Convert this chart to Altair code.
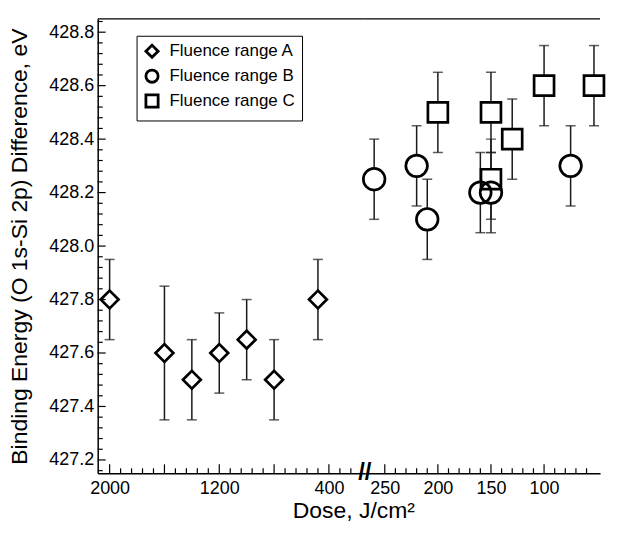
import altair as alt
import pandas as pd

FONT = "Liberation Sans"

# ---- data ----
series = ["Fluence range A", "Fluence range B", "Fluence range C"]
shapes = ["diamond", "circle", "square"]
sizes = [320, 470, 400]

dose_a = [2000, 1600, 1400, 1200, 1000, 800, 480]
be_a = [427.80, 427.60, 427.50, 427.60, 427.65, 427.50, 427.80]
lo_a = [427.65, 427.35, 427.35, 427.45, 427.50, 427.35, 427.65]
hi_a = [427.95, 427.85, 427.65, 427.75, 427.80, 427.65, 427.95]

dose_b = [260, 220, 210, 160, 150, 75]
be_b = [428.25, 428.30, 428.10, 428.20, 428.20, 428.30]
lo_b = [428.10, 428.15, 427.95, 428.05, 428.05, 428.15]
hi_b = [428.40, 428.45, 428.25, 428.35, 428.35, 428.45]

dose_c = [200, 150, 150, 130, 100, 53]
be_c = [428.50, 428.50, 428.25, 428.40, 428.60, 428.60]
lo_c = [428.35, 428.35, 428.10, 428.25, 428.45, 428.45]
hi_c = [428.65, 428.65, 428.40, 428.55, 428.75, 428.75]

# ---- axis tick values ----
left_labels = [2000, 1200, 400]
left_major = [2000, 1600, 1200, 800, 400]
left_minor = [d for d in range(2000, 239, -80) if d not in left_major]
right_labels = [250, 200, 150, 100]
right_major = [250, 200, 150, 100]
right_minor = [d for d in range(250, 59, -10) if d not in right_major]
y_labels = [427.2, 427.4, 427.6, 427.8, 428.0, 428.2, 428.4, 428.6, 428.8]
y_minor = [round(427.16 + 0.04 * i, 2) for i in range(43)]
y_minor = [v for v in y_minor if all(abs(v - m) > 1e-6 for m in y_labels)]

x_title = "Dose, J/cm²"
y_title = "Binding Energy (O 1s-Si 2p) Difference, eV"

Y_DOMAIN = [427.15, 428.85]
W1, W2, H = 268, 236, 456


def frame(dose, be, lo, hi, name):
    return pd.DataFrame({"dose": dose, "be": be, "lo": lo, "hi": hi, "g": name})


df_left = frame(dose_a, be_a, lo_a, hi_a, series[0])
df_right = pd.concat([frame(dose_b, be_b, lo_b, hi_b, series[1]),
                      frame(dose_c, be_c, lo_c, hi_c, series[2])])

y_scale = alt.Scale(domain=Y_DOMAIN, nice=False, zero=False)
y_axis_left = alt.Axis(values=y_labels, format=".1f", ticks=False, grid=False,
                       title=y_title,
                       titleFontSize=23, titleFontWeight="normal", titleFont=FONT,
                       titlePadding=17, titleColor="black",
                       labelFontSize=18, labelFont=FONT, labelColor="black",
                       labelPadding=4, domainColor="black", domainWidth=1.5)

legend = alt.Legend(orient="none", legendX=39, legendY=17, title=None,
                    strokeColor="black", fillColor="white", padding=7,
                    labelFontSize=17, labelFont=FONT, labelColor="black",
                    symbolSize=150, symbolStrokeWidth=2.8,
                    rowPadding=0, labelOffset=9)

shape_scale = alt.Scale(domain=series, range=shapes)


def panel(df, domain, width, labels, major, minor, is_left):
    xs = alt.Scale(domain=domain, nice=False, zero=False)
    xa = alt.Axis(values=labels, format="d", ticks=False, grid=False, title=None,
                  labelFontSize=18, labelFont=FONT, labelColor="black",
                  labelPadding=6, labelFlush=False, labelOverlap=False,
                  domainColor="black", domainWidth=1.5)
    y_axis = y_axis_left if is_left else None

    def X(f):
        return alt.X(f, scale=xs, axis=xa)

    def Y(f):
        return alt.Y(f, scale=y_scale, axis=y_axis)

    base = alt.Chart(df)
    err = base.mark_rule(color="#1a1a1a", strokeWidth=1.5).encode(
        x=X("dose:Q"), y=Y("lo:Q"), y2="hi:Q")
    cap_lo = base.mark_tick(color="#1a1a1a", thickness=1.5, size=10,
                            orient="horizontal").encode(x=X("dose:Q"), y=Y("lo:Q"))
    cap_hi = base.mark_tick(color="#1a1a1a", thickness=1.5, size=10,
                            orient="horizontal").encode(x=X("dose:Q"), y=Y("hi:Q"))
    xt_major = alt.Chart(pd.DataFrame({"d": major})).mark_rule(
        color="black", strokeWidth=1.2).encode(
        x=X("d:Q"), y=alt.value(H), y2=alt.value(H - 9))
    xt_minor = alt.Chart(pd.DataFrame({"d": minor})).mark_rule(
        color="black", strokeWidth=1.2).encode(
        x=X("d:Q"), y=alt.value(H), y2=alt.value(H - 5))
    top = alt.Chart(pd.DataFrame({"v": [Y_DOMAIN[1]]})).mark_rule(
        color="black", strokeWidth=1.3).encode(
        y=Y("v:Q"), x=alt.value(0), x2=alt.value(width))
    layers = [err, cap_lo, cap_hi, xt_major, xt_minor, top]

    # markers: white body underneath, black outline on top (outline carries legend)
    present = set(df["g"])
    for name, shp, sz in zip(series, shapes, sizes):
        if name not in present:
            continue
        sub = base.transform_filter(alt.datum.g == name)
        body = sub.mark_point(filled=True, color="white", opacity=1, size=sz,
                              shape=shp).encode(x=X("dose:Q"), y=Y("be:Q"))
        layers.append(body)
    for name, sz in zip(series, sizes):
        if name not in present:
            continue
        sub = base.transform_filter(alt.datum.g == name)
        outline = sub.mark_point(filled=False, color="black", strokeWidth=2.7,
                                 opacity=1, size=sz).encode(
            x=X("dose:Q"), y=Y("be:Q"),
            shape=alt.Shape("g:N", scale=shape_scale,
                            legend=legend if is_left else None))
        layers.append(outline)

    if is_left:
        yt_major = alt.Chart(pd.DataFrame({"v": y_labels})).mark_rule(
            color="black", strokeWidth=1.2).encode(
            y=Y("v:Q"), x=alt.value(0), x2=alt.value(8))
        yt_minor = alt.Chart(pd.DataFrame({"v": y_minor})).mark_rule(
            color="black", strokeWidth=1.2).encode(
            y=Y("v:Q"), x=alt.value(0), x2=alt.value(5))
        brk = alt.Chart(pd.DataFrame({"t": ["//"]})).mark_text(
            fontSize=24, fontWeight="bold", font=FONT, color="black",
            align="center", baseline="middle").encode(
            text="t:N", x=alt.value(width), y=alt.value(H))
        ttl = alt.Chart(pd.DataFrame({"t": [x_title]})).mark_text(
            fontSize=23, font=FONT, color="black",
            align="center", baseline="alphabetic").encode(
            text="t:N", x=alt.value(257), y=alt.value(H + 45))
        layers += [yt_major, yt_minor, brk, ttl]
    return alt.layer(*layers).properties(width=width, height=H)


left = panel(df_left, [2087, 138], W1, left_labels, left_major, left_minor, True)
right = panel(df_right, [268.8, 47.3], W2, right_labels, right_major, right_minor,
              False)

chart = alt.hconcat(left, right, spacing=0, bounds="flush").resolve_scale(
    x="independent", y="independent", shape="independent"
).properties(
    padding={"left": 0, "top": 9, "right": 0, "bottom": 0},
).configure_view(stroke=None)

chart.save("out.html", embed_options={"renderer": "svg", "actions": False})
